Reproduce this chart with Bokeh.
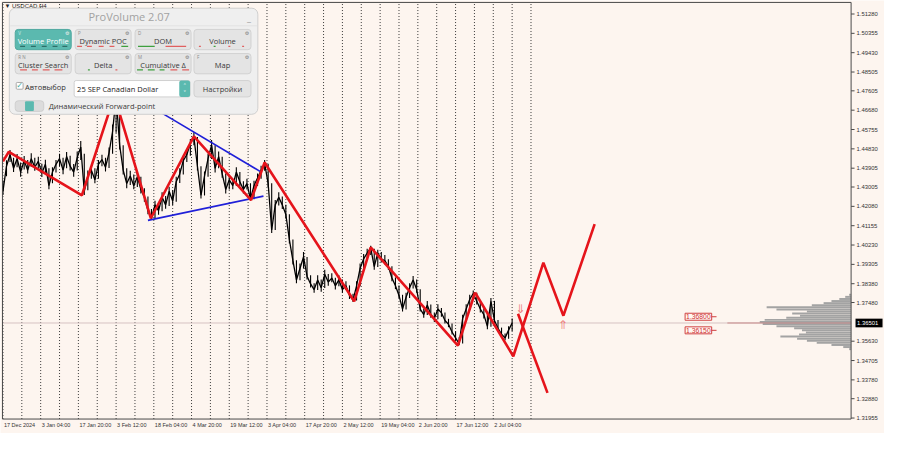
from bokeh.plotting import figure
from bokeh.models import Range1d, Label, BoxAnnotation
from bokeh.core.properties import value
from bokeh.embed import file_html
from bokeh.resources import INLINE

# ---------------- data ----------------
# USDCAD H4, one sample per 6 bars (bar index = time axis): close, high, low
closes = [1.4280, 1.4400, 1.4455, 1.4390, 1.4436, 1.4372, 1.4427, 1.4381, 1.4436, 1.4395,
          1.4423, 1.4367, 1.4409, 1.4307, 1.4372, 1.4409, 1.4436, 1.4381, 1.4446, 1.4400,
          1.4372, 1.4441, 1.4492, 1.4280, 1.4353, 1.4381, 1.4335, 1.4409, 1.4432, 1.4395,
          1.4464, 1.4566, 1.4732, 1.4501, 1.4381, 1.4317, 1.4353, 1.4307, 1.4349, 1.4289,
          1.4252, 1.4188, 1.4151, 1.4215, 1.4188, 1.4252, 1.4215, 1.4280, 1.4234, 1.4326,
          1.4363, 1.4427, 1.4455, 1.4510, 1.4538, 1.4400, 1.4261, 1.4353, 1.4436, 1.4501,
          1.4390, 1.4446, 1.4363, 1.4289, 1.4335, 1.4307, 1.4372, 1.4326, 1.4289, 1.4317,
          1.4243, 1.4307, 1.4344, 1.4381, 1.4413, 1.4317, 1.4095, 1.4215, 1.4252, 1.4215,
          1.4169, 1.4049, 1.3948, 1.3856, 1.3911, 1.3966, 1.3874, 1.3837, 1.3810, 1.3856,
          1.3819, 1.3883, 1.3846, 1.3865, 1.3828, 1.3856, 1.3810, 1.3828, 1.3782, 1.3759,
          1.3828, 1.3911, 1.3957, 1.3985, 1.4008, 1.3920, 1.3985, 1.3957, 1.3948, 1.3920,
          1.3865, 1.3828, 1.3782, 1.3717, 1.3773, 1.3819, 1.3856, 1.3810, 1.3717, 1.3690,
          1.3736, 1.3690, 1.3671, 1.3717, 1.3699, 1.3662, 1.3644, 1.3607, 1.3579, 1.3551,
          1.3671, 1.3717, 1.3763, 1.3791, 1.3754, 1.3717, 1.3690, 1.3634, 1.3754, 1.3662,
          1.3625, 1.3597, 1.3579, 1.3616, 1.3650]
highs = [1.4330, 1.4428, 1.4478, 1.4440, 1.4458, 1.4418, 1.4449, 1.4430, 1.4462, 1.4440,
         1.4445, 1.4412, 1.4431, 1.4390, 1.4395, 1.4430, 1.4460, 1.4440, 1.4468, 1.4450,
         1.4410, 1.4470, 1.4520, 1.4460, 1.4380, 1.4400, 1.4390, 1.4430, 1.4455, 1.4440,
         1.4490, 1.4600, 1.4760, 1.4700, 1.4500, 1.4390, 1.4378, 1.4360, 1.4372, 1.4350,
         1.4295, 1.4255, 1.4195, 1.4235, 1.4222, 1.4275, 1.4258, 1.4302, 1.4285, 1.4350,
         1.4390, 1.4450, 1.4480, 1.4530, 1.4562, 1.4540, 1.4400, 1.4375, 1.4460, 1.4525,
         1.4500, 1.4470, 1.4445, 1.4365, 1.4358, 1.4340, 1.4395, 1.4372, 1.4328, 1.4340,
         1.4318, 1.4330, 1.4365, 1.4402, 1.4430, 1.4412, 1.4318, 1.4238, 1.4275, 1.4255,
         1.4216, 1.4170, 1.4050, 1.3950, 1.3935, 1.3990, 1.3966, 1.3878, 1.3840, 1.3878,
         1.3858, 1.3905, 1.3885, 1.3888, 1.3866, 1.3878, 1.3858, 1.3850, 1.3830, 1.3790,
         1.3850, 1.3935, 1.3980, 1.4005, 1.4020, 1.4005, 1.4000, 1.3990, 1.3975, 1.3955,
         1.3922, 1.3868, 1.3830, 1.3785, 1.3795, 1.3840, 1.3875, 1.3858, 1.3812, 1.3720,
         1.3755, 1.3738, 1.3700, 1.3740, 1.3722, 1.3700, 1.3670, 1.3648, 1.3610, 1.3582,
         1.3690, 1.3740, 1.3785, 1.3805, 1.3795, 1.3756, 1.3720, 1.3692, 1.3770, 1.3756,
         1.3665, 1.3628, 1.3600, 1.3635, 1.3672]
lows = [1.4262, 1.4352, 1.4420, 1.4372, 1.4395, 1.4350, 1.4384, 1.4365, 1.4398, 1.4378,
        1.4388, 1.4348, 1.4362, 1.4290, 1.4318, 1.4370, 1.4400, 1.4362, 1.4390, 1.4380,
        1.4350, 1.4380, 1.4430, 1.4262, 1.4285, 1.4340, 1.4318, 1.4340, 1.4400, 1.4375,
        1.4392, 1.4460, 1.4560, 1.4480, 1.4360, 1.4295, 1.4310, 1.4290, 1.4300, 1.4270,
        1.4230, 1.4170, 1.4145, 1.4150, 1.4168, 1.4185, 1.4196, 1.4210, 1.4215, 1.4230,
        1.4320, 1.4360, 1.4420, 1.4450, 1.4500, 1.4380, 1.4245, 1.4260, 1.4350, 1.4435,
        1.4370, 1.4390, 1.4345, 1.4270, 1.4288, 1.4290, 1.4305, 1.4305, 1.4270, 1.4288,
        1.4236, 1.4242, 1.4305, 1.4340, 1.4378, 1.4300, 1.4080, 1.4095, 1.4212, 1.4195,
        1.4150, 1.4030, 1.3930, 1.3840, 1.3855, 1.3910, 1.3858, 1.3820, 1.3795, 1.3808,
        1.3800, 1.3818, 1.3828, 1.3845, 1.3810, 1.3826, 1.3795, 1.3808, 1.3765, 1.3750,
        1.3758, 1.3826, 1.3908, 1.3950, 1.3975, 1.3905, 1.3918, 1.3940, 1.3930, 1.3905,
        1.3850, 1.3812, 1.3768, 1.3705, 1.3715, 1.3770, 1.3815, 1.3795, 1.3705, 1.3675,
        1.3688, 1.3675, 1.3655, 1.3668, 1.3680, 1.3648, 1.3630, 1.3595, 1.3565, 1.3545,
        1.3552, 1.3668, 1.3715, 1.3760, 1.3738, 1.3700, 1.3672, 1.3620, 1.3632, 1.3648,
        1.3610, 1.3585, 1.3568, 1.3575, 1.3612]
bar_step = 6
bars = [i * bar_step for i in range(len(closes))]
last_price = 1.36501

zz_bars = [0, 10, 134, 189, 251, 324, 421, 444, 596, 624, 772, 801]
zz_prices = [1.4423, 1.4469, 1.4261, 1.4736, 1.4151, 1.4543, 1.4238, 1.4418, 1.3754, 1.4012, 1.3542, 1.3796]
fc_up_bars = [801, 866, 917, 951, 1004]
fc_up_prices = [1.3796, 1.3491, 1.3939, 1.3685, 1.4123]
fc_dn_bars = [874, 924]
fc_dn_prices = [1.3694, 1.3316]

tri_up_bars = [262, 437]
tri_up_prices = [1.4667, 1.4374]
tri_lo_bars = [246, 442]
tri_lo_prices = [1.4141, 1.4257]

arrow_bars = [878, 950]
arrow_prices = [1.3717, 1.3640]
arrow_text = ["\u21d3", "\u21d1"]

level_prices = [1.36800, 1.36150]
level_text = ["1.36800", "1.36150"]

vp_prices = [1.3785, 1.3775, 1.3765, 1.3755, 1.3745, 1.3735, 1.3725, 1.3715, 1.3705,
             1.3695, 1.3685, 1.3675, 1.3665, 1.3655, 1.3645, 1.3635, 1.3625, 1.3615,
             1.3605, 1.3595, 1.3585, 1.3575, 1.3565, 1.3555, 1.3545, 1.3535, 1.3525]
vp_volume = [2, 6, 12, 20, 28, 40, 86, 76, 45, 60, 52, 66, 88, 93, 90, 76, 58, 50,
             46, 53, 72, 55, 45, 35, 20, 8, 2]
poc_price = 1.36501
poc_volume = 126

grid_bars = list(range(0, 897, 32))
date_bars = list(range(0, 833, 64))
date_labels = ["17 Dec 2024", "3 Jan 04:00", "17 Jan 20:00", "3 Feb 12:00", "18 Feb 04:00",
               "4 Mar 20:00", "19 Mar 12:00", "3 Apr 04:00", "17 Apr 20:00", "2 May 12:00",
               "19 May 04:00", "2 Jun 20:00", "17 Jun 12:00", "2 Jul 04:00"]
y_ticks = [1.51280, 1.50355, 1.49430, 1.48505, 1.47605, 1.46680, 1.45755, 1.44830, 1.43905,
           1.43005, 1.42080, 1.41155, 1.40230, 1.39305, 1.38380, 1.37480, 1.35630, 1.34705,
           1.33780, 1.32880, 1.31955]
y_tick_labels = ["%.5f" % v for v in y_ticks]


# ---------------- layout helpers (reference pixel -> data) ----------------
def bx(px):
    return (px - 2.5) * 5.0 / 3.0


def pp(py):
    return 1.5128 - (py - 14) / 2168.0


def dpy(n):
    return n / 2168.0


CH_L, CH_R = bx(2), bx(866)          # chart area (left edge, price-scale line)
CH_T, CH_B = pp(2), pp(434)          # chart area (top, bottom)

BG = "#FDF5EF"
p = figure(width=884, height=433, output_backend="svg", toolbar_location=None,
           x_range=Range1d(bx(0), bx(900)), y_range=Range1d(pp(449), pp(0)),
           x_axis_location=None, y_axis_location=None,
           min_border_left=0, min_border_right=0, min_border_top=0, min_border_bottom=0,
           background_fill_color=BG, border_fill_color=BG)
p.outline_line_color = None
p.xgrid.visible = False
p.ygrid.visible = False

FONT = value("Liberation Sans")

# vertical dotted grid
p.segment(x0=grid_bars, y0=CH_B, x1=grid_bars, y1=CH_T, line_color="#3a3a3a",
          line_dash="1 2", line_width=1)

# current price line
p.segment(x0=CH_L, y0=last_price, x1=CH_R, y1=last_price, line_color="#D6C2C2", line_width=1)

# volume profile
scale = 5.0 / 3.0
p.hbar(y=vp_prices, right=CH_R, left=[CH_R - v * scale for v in vp_volume],
       height=0.00095, fill_color="#A3A3A3", line_color=None)
p.segment(x0=CH_R - poc_volume * scale, y0=poc_price, x1=CH_R, y1=poc_price,
          line_color="#C98C8C", line_width=1)

# price
p.segment(x0=bars, y0=lows, x1=bars, y1=highs, line_color="#000000", line_width=1.1)
p.line(bars, closes, line_color="#000000", line_width=1.3)

# triangle
p.line(tri_up_bars, tri_up_prices, line_color="#1F1FD8", line_width=1.6)
p.line(tri_lo_bars, tri_lo_prices, line_color="#1F1FD8", line_width=1.6)

# zigzag + forecast
RED = "#E5141B"
p.line(zz_bars, zz_prices, line_color=RED, line_width=2.6)
p.line(fc_up_bars, fc_up_prices, line_color=RED, line_width=2.6)
p.line(fc_dn_bars, fc_dn_prices, line_color=RED, line_width=2.6)

p.text(x=arrow_bars, y=arrow_prices, text=arrow_text, text_color="#EE8080",
       text_font=value("DejaVu Sans"), text_font_size="12px",
       text_align="center", text_baseline="middle")

# level tags
p.segment(x0=bx(723), y0=level_prices, x1=bx(729), y1=level_prices, line_color="#D04040", line_width=1)
for lp, lt in zip(level_prices, level_text):
    p.add_layout(Label(x=bx(697), y=lp, text=lt, text_font="Liberation Sans",
                       text_font_size="6.8px", text_color="#D03030", text_align="left",
                       text_baseline="middle", border_line_color="#D04040",
                       background_fill_color="#FFF8F4", padding=1))

# chart border + price scale
p.segment(x0=[CH_L, CH_L, CH_R, CH_L], y0=[CH_B, CH_T, CH_B, CH_B],
          x1=[CH_L, CH_R, CH_R, CH_R], y1=[CH_T, CH_T, CH_T, CH_B],
          line_color="#4a4a4a", line_width=1)
p.segment(x0=CH_R, y0=y_ticks, x1=bx(869.5), y1=y_ticks, line_color="#4a4a4a", line_width=1)
p.text(x=bx(871.5), y=y_ticks, text=y_tick_labels, text_font=FONT, text_font_size="5.9px",
       text_color="#333333", text_align="left", text_baseline="middle")

# current price tag
p.quad(left=bx(870.5), right=bx(898), top=last_price + dpy(4.5), bottom=last_price - dpy(4.5),
       fill_color="#000000", line_color=None)
p.text(x=bx(872), y=last_price, text=["%.5f" % last_price], text_font=FONT, text_font_size="5.9px",
       text_color="#FFFFFF", text_align="left", text_baseline="middle")

# time scale
p.text(x=date_bars, y=pp(440), text=date_labels, x_offset=1, text_font=FONT,
       text_font_size="5.5px", text_color="#333333", text_align="left", text_baseline="middle")

# symbol label
p.add_layout(Label(x=bx(4), y=pp(5.5), text="\u25bc USDCAD,H4", text_font="Liberation Sans",
                   text_font_size="6px", text_color="#222222", text_align="left",
                   text_baseline="middle"))


# ---------------- ProVolume panel ----------------
def pbox(x0, y0, x1, y1, fill, line=None, radius=0):
    p.add_layout(BoxAnnotation(left=bx(x0), right=bx(x1), top=pp(y0), bottom=pp(y1),
                               fill_color=fill, fill_alpha=1.0,
                               line_color=line if line else fill, line_alpha=1.0 if line else 0.0,
                               line_width=1, border_radius=radius))


def ptext(x, y, t, size, color, align="left", font="Open Sans"):
    p.add_layout(Label(x=bx(x), y=pp(y), text=t, text_font=font, text_font_size=f"{size}px",
                       text_color=color, text_align=align, text_baseline="middle"))


pbox(9, 8, 262, 118, "#EFEFEF", "#CFCFCF", 6)
pbox(10, 26, 261, 26.6, "#DDDDDD")
ptext(131, 17, "ProVolume 2.07", 11, "#A2A2A2", "center")
ptext(253, 18, "_", 9, "#9A9A9A", "center")

buttons = [
    (15, 30, 72, 51, "Volume Profile", True, "V"),
    (76, 30, 133, 51, "Dynamic POC", False, "P"),
    (137, 30, 194, 51, "DOM", False, "D"),
    (197, 30, 255, 51, "Volume", False, ""),
    (15, 55, 72, 76, "Cluster Search", False, "R  N"),
    (76, 55, 133, 76, "Delta", False, ""),
    (137, 55, 194, 76, "Cumulative \u0394", False, "M"),
    (197, 55, 255, 76, "Map", False, "F"),
]
for x0, y0, x1, y1, t, act, tag in buttons:
    pbox(x0, y0, x1, y1, "#5BB9AF" if act else "#E4E4E4", "#4FA89F" if act else "#D2D2D2", 3)
    ptext((x0 + x1) / 2, y0 + 11.5, t, 7.5, "white" if act else "#3a3a3a", "center")
    if tag:
        ptext(x0 + 3, y0 + 3.5, tag, 4.5, "#DDEFEE" if act else "#8a8a8a")
    ptext(x1 - 4, y0 + 3.5, "\u2699", 5, "#F0F0F0" if act else "#7a7a7a", "center", "DejaVu Sans")

marks = [
    (20, 25, 47.5, "#2F6F69"), (31, 36, 47.5, "#2F6F69"), (42, 47, 47.5, "#2F6F69"),
    (53, 58, 47.5, "#2F6F69"), (63, 68, 47.5, "#2F6F69"),
    (78, 83, 47.5, "#E06060"), (88, 93, 47.5, "#E06060"), (100, 105, 47.5, "#E06060"),
    (111, 116, 47.5, "#E06060"), (123, 130, 47.5, "#3FA03F"),
    (140, 157, 47.5, "#3FA03F"), (168, 189, 47.5, "#E06060"),
    (202, 204, 47.5, "#E06060"), (217, 219, 47.5, "#3FA03F"), (232, 234, 47.5, "#E06060"),
    (246, 248, 47.5, "#E06060"),
    (20, 27, 72, "#E06060"), (32, 38, 72, "#E06060"), (43, 50, 72, "#E06060"), (55, 63, 72, "#E06060"),
    (89, 91, 72, "#3FA03F"), (117, 119, 72, "#E06060"),
    (139, 145, 72, "#3FA03F"), (150, 157, 72, "#3FA03F"), (162, 167, 72, "#3FA03F"),
    (173, 180, 72, "#E06060"), (185, 192, 72, "#E06060"),
]
for a, b, y, c in marks:
    pbox(a, y - 0.6, b, y + 0.6, c)

pbox(16, 85, 23, 92, "#FFFFFF", "#AAAAAA", 1)
ptext(19.5, 88, "\u2713", 8, "#3FA79C", "center", "DejaVu Sans")
ptext(25, 90, "Автовыбор", 7.5, "#333333")
pbox(75, 83, 193, 100, "#FFFFFF", "#D0D0D0", 2)
pbox(182, 83, 193, 100, "#5BB9AF", None, 2)
ptext(187.5, 88, "\u02c4", 6, "white", "center", "DejaVu Sans")
ptext(187.5, 95, "\u02c5", 6, "white", "center", "DejaVu Sans")
ptext(78, 91.5, "25 SEP Canadian Dollar", 7.5, "#222222")
pbox(197, 83, 255, 100, "#E4E4E4", "#D2D2D2", 3)
ptext(226, 91.5, "Настройки", 7.5, "#3a3a3a", "center")

pbox(15, 104, 44, 115, "#DCDCDC", "#CFCFCF", 3)
pbox(25, 104.5, 34, 114.5, "#5BB9AF", None, 1)
ptext(49, 109.5, "Динамический Forward-point", 7.5, "#3a3a3a")

open("out.html", "w").write(file_html(p, INLINE))
